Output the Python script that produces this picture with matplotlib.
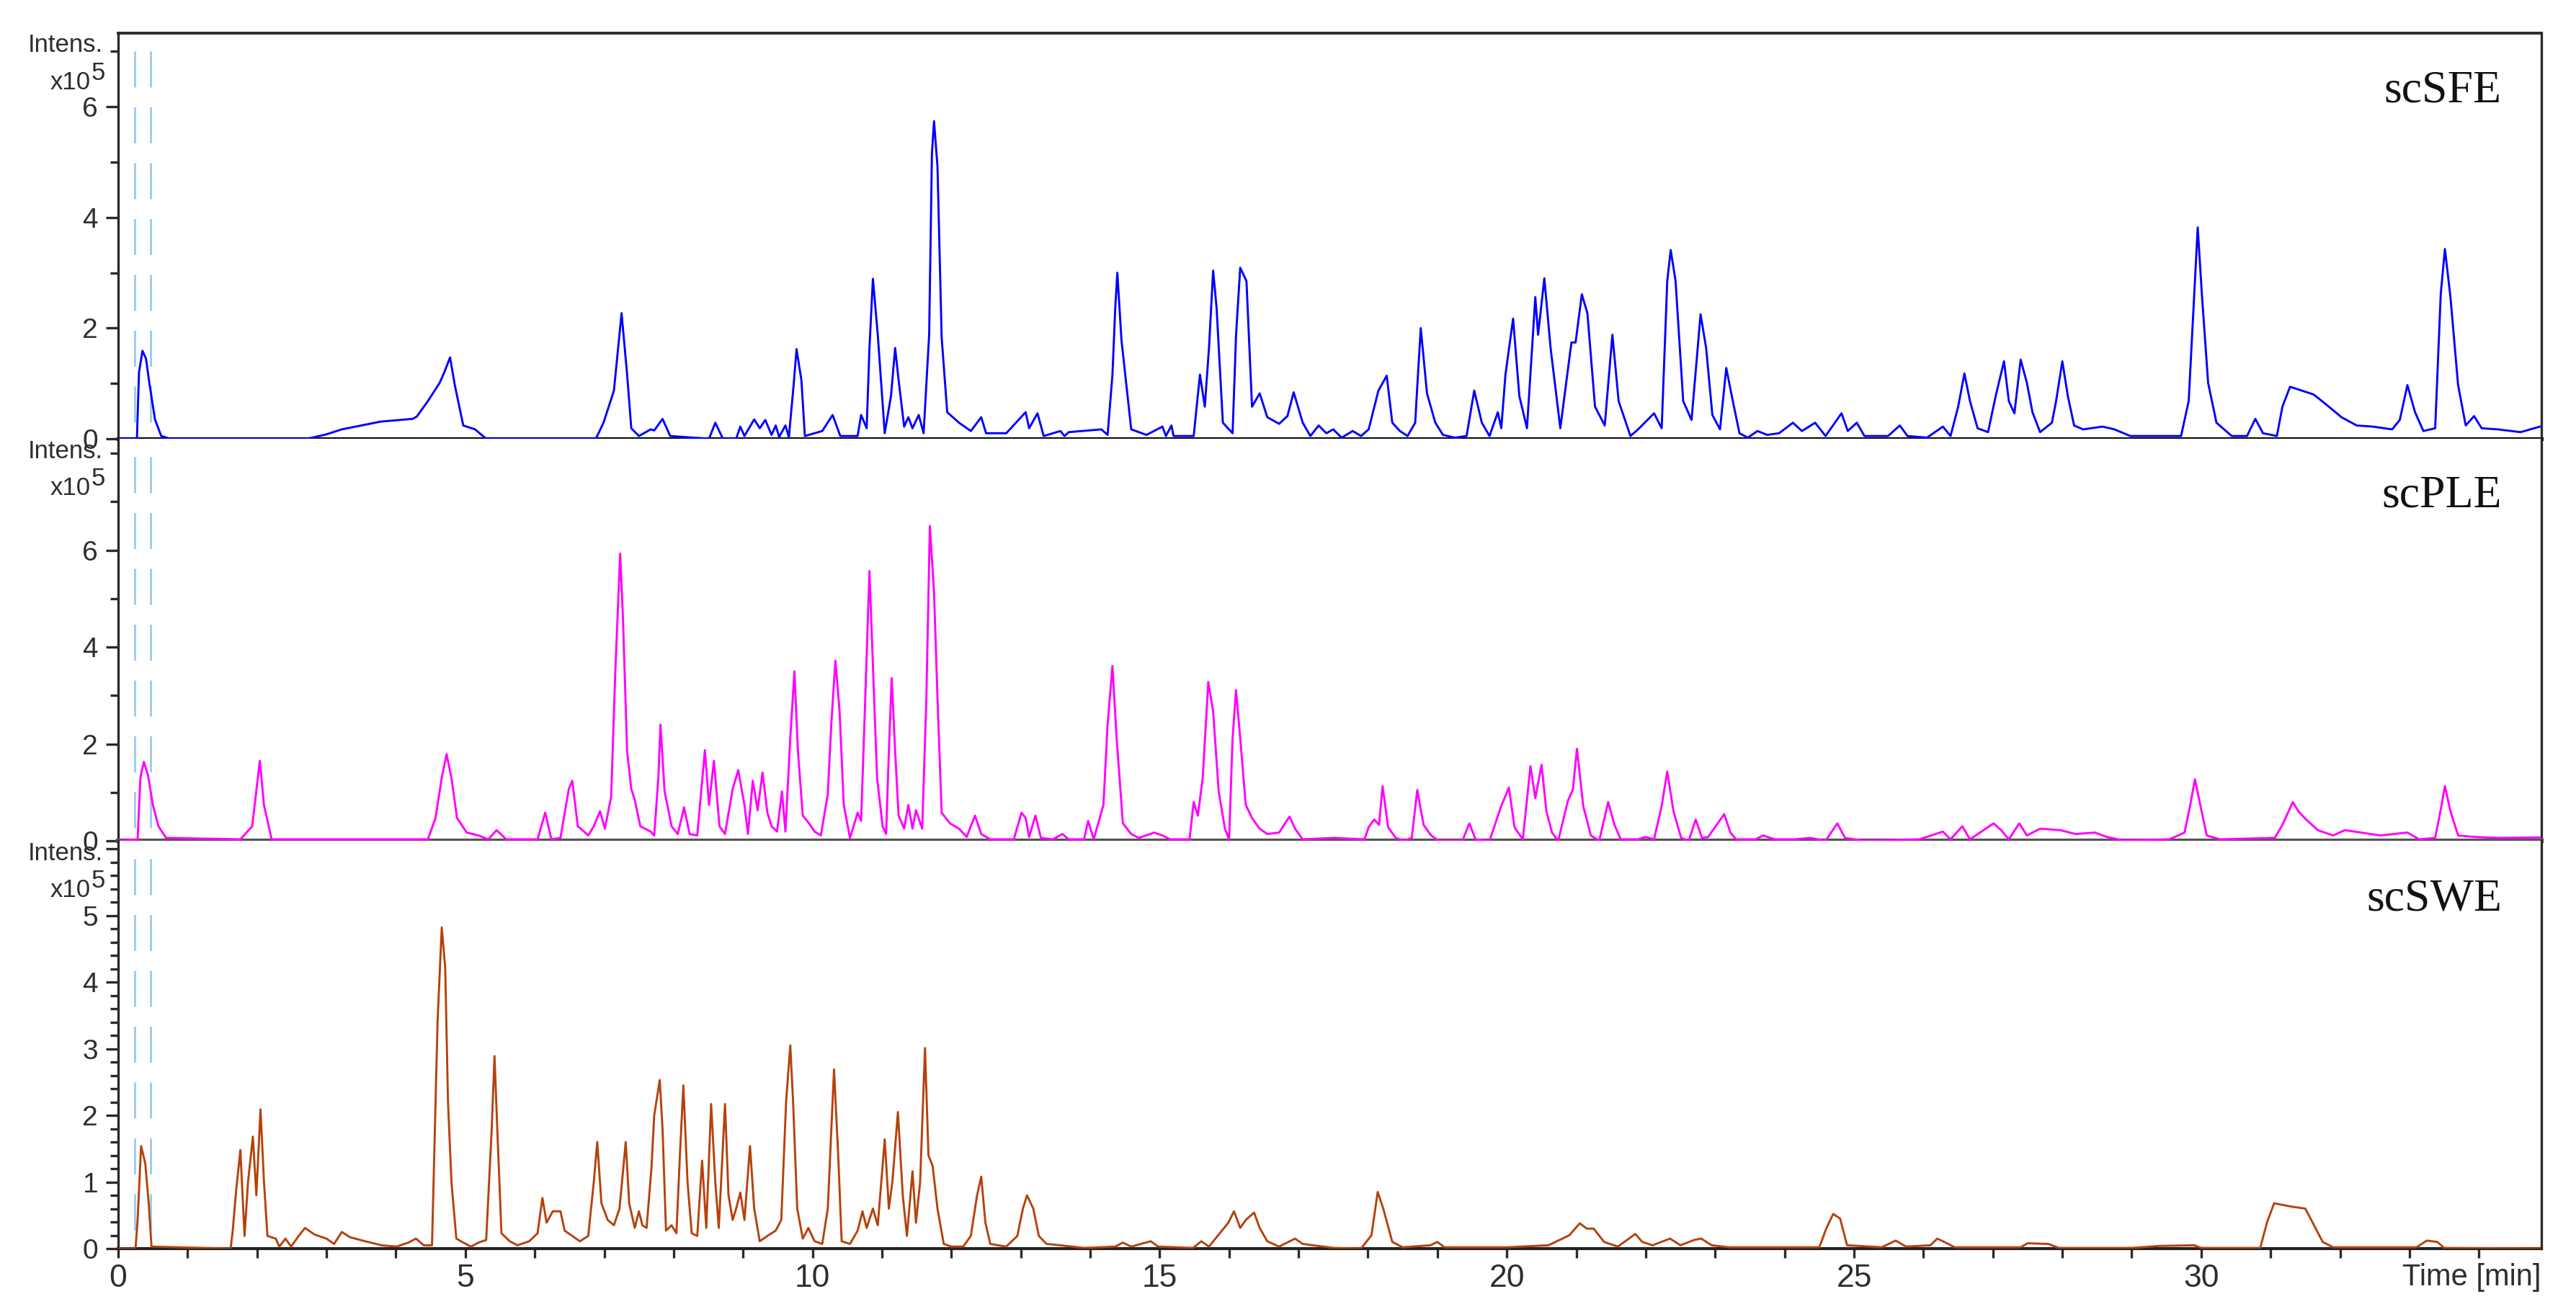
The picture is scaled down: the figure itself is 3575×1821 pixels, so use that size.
import matplotlib
matplotlib.use("Agg")
import matplotlib.pyplot as plt
from matplotlib import font_manager
from matplotlib.ticker import FixedLocator

# ---- chromatogram traces (time [min], intensity x10^5) ----
sfe_time = [0, 0.27, 0.30, 0.35, 0.40, 0.45, 0.53, 0.62, 0.75,
            2.72, 3.0, 3.22, 3.5, 3.78, 4.05, 4.24, 4.30, 4.46, 4.63, 4.69, 4.78, 4.85, 4.97, 5.14, 5.30,
            6.88, 6.99, 7.14, 7.25, 7.33, 7.39, 7.50, 7.60, 7.67, 7.72, 7.84, 7.95,
            8.51, 8.60, 8.71,
            8.90, 8.96, 9.02, 9.16, 9.24, 9.32, 9.41, 9.47, 9.52, 9.61, 9.66, 9.73, 9.77, 9.84, 9.89,
            10.14, 10.29, 10.40, 10.65, 10.70, 10.78, 10.82, 10.87, 10.94, 11.04, 11.13, 11.19, 11.24,
            11.32, 11.38, 11.44, 11.53, 11.60, 11.68, 11.72, 11.75, 11.80, 11.86, 11.94, 12.11, 12.28,
            12.43, 12.50, 12.79, 13.07, 13.12, 13.24, 13.33, 13.57, 13.63, 13.69, 14.16, 14.25, 14.32,
            14.36, 14.39, 14.45, 14.59, 14.81, 15.04, 15.09, 15.17, 15.20, 15.49, 15.58, 15.65, 15.71,
            15.77, 15.82, 15.91, 16.05, 16.10, 16.16, 16.25, 16.33, 16.44, 16.55, 16.72, 16.84, 16.93,
            17.06, 17.17, 17.29, 17.40,
            17.50, 17.62, 17.78, 17.90, 18.01, 18.15, 18.27, 18.35, 18.46, 18.57, 18.68, 18.72, 18.76,
            18.85, 18.97, 19.08, 19.25, 19.42, 19.53, 19.64, 19.75, 19.87, 19.92, 19.98, 20.09, 20.18,
            20.29, 20.41, 20.45, 20.54, 20.63, 20.77, 20.93, 20.99, 21.08, 21.16, 21.27, 21.41, 21.52,
            21.61, 21.78, 21.89, 22.12, 22.23, 22.31, 22.36, 22.43, 22.54, 22.66, 22.79, 22.87, 22.96,
            23.07, 23.16, 23.24, 23.35, 23.47, 23.61, 23.75, 23.92, 24.12, 24.25, 24.44, 24.59, 24.82,
            24.91, 25.04, 25.15, 25.49, 25.66, 25.77, 26.05, 26.28, 26.39, 26.50, 26.59, 26.67, 26.78,
            26.93, 27.04, 27.16, 27.23, 27.31, 27.40, 27.49, 27.57, 27.68, 27.85, 27.91, 28.00, 28.08,
            28.17, 28.30, 28.58, 28.75, 28.98, 29.71, 29.82, 29.90, 29.95, 30.01, 30.10, 30.22, 30.44,
            30.66, 30.78, 30.89, 31.09, 31.17, 31.28, 31.45, 31.62, 31.79, 32.02, 32.24, 32.47, 32.75,
            32.86, 32.97, 33.08, 33.20, 33.37, 33.45, 33.51, 33.59, 33.70, 33.81, 33.93, 34.04, 34.27,
            34.60, 34.88, 35.0]
sfe_intens = [0, 0, 1.2, 1.59, 1.45, 1.0, 0.35, 0.05, 0,
              0, 0.08, 0.17, 0.24, 0.31, 0.34, 0.36, 0.40, 0.68, 1.01, 1.18, 1.47, 0.96, 0.24, 0.17, 0.0,
              0, 0.29, 0.87, 2.27, 1.16, 0.19, 0.05, 0.12, 0.17, 0.15, 0.36, 0.05,
              0, 0.29, 0,
              0, 0.22, 0.05, 0.35, 0.19, 0.34, 0.07, 0.24, 0.03, 0.24, 0.03, 1.0, 1.62, 1.06, 0.05,
              0.14, 0.43, 0.05, 0.05, 0.43, 0.19, 1.64, 2.89, 1.88, 0.1, 0.77, 1.64, 1.06,
              0.22, 0.39, 0.19, 0.43, 0.1, 1.88, 5.16, 5.74, 4.92, 1.83, 0.48, 0.29, 0.14,
              0.39, 0.1, 0.1, 0.48, 0.19, 0.46, 0.05, 0.14, 0.05, 0.12, 0.17, 0.07, 1.16,
              2.36, 3.0, 1.78, 0.17, 0.07, 0.22, 0.05, 0.24, 0.05, 0.05, 1.16, 0.58, 1.64,
              3.04, 2.36, 0.29, 0.1, 1.88, 3.09, 2.85, 0.58, 0.82, 0.39, 0.27, 0.41, 0.84,
              0.29, 0.05, 0.24, 0.1,
              0.17, 0.02, 0.14, 0.05, 0.17, 0.87, 1.14, 0.29, 0.14, 0.05, 0.29, 1.16, 2.0,
              0.82, 0.29, 0.07, 0.02, 0.05, 0.87, 0.29, 0.05, 0.48, 0.19, 1.16, 2.17, 0.77,
              0.19, 2.56, 1.88, 2.90, 1.64, 0.19, 1.74, 1.74, 2.61, 2.27, 0.58, 0.24, 1.88,
              0.68, 0.05, 0.17, 0.46, 0.19, 2.85, 3.41, 2.85, 0.68, 0.34, 2.25, 1.64, 0.43,
              0.17, 1.28, 0.77, 0.10, 0.02, 0.14, 0.07, 0.10, 0.29, 0.14, 0.29, 0.05, 0.46,
              0.14, 0.29, 0.05, 0.05, 0.24, 0.05, 0.02, 0.22, 0.05, 0.58, 1.18, 0.68, 0.19,
              0.12, 0.77, 1.40, 0.68, 0.46, 1.43, 1.01, 0.48, 0.12, 0.29, 0.68, 1.40, 0.77,
              0.24, 0.17, 0.22, 0.17, 0.05, 0.05, 0.68, 2.61, 3.82, 2.61, 1.01, 0.29, 0.05,
              0.05, 0.36, 0.10, 0.05, 0.58, 0.94, 0.87, 0.80, 0.63, 0.39, 0.24, 0.22, 0.17,
              0.34, 0.97, 0.48, 0.14, 0.19, 2.61, 3.43, 2.56, 0.97, 0.24, 0.41, 0.19, 0.17,
              0.12, 0.22, 0.22]

ple_time = [0, 0.28, 0.32, 0.37, 0.43, 0.50, 0.58, 0.69, 1.76, 1.93, 2.04, 2.10, 2.21,
            4.46, 4.57, 4.66, 4.73, 4.80, 4.88, 5.02, 5.19, 5.33, 5.45, 5.59, 6.04, 6.15, 6.24,
            6.37, 6.49, 6.54, 6.62, 6.71, 6.77, 6.85, 6.94, 7.01, 7.10, 7.16, 7.23, 7.27, 7.33,
            7.39, 7.44, 7.52, 7.67, 7.72, 7.78, 7.81, 7.87, 7.97, 8.06, 8.15, 8.23, 8.34, 8.45,
            8.51, 8.58, 8.66, 8.74, 8.85, 8.93, 9.02, 9.07, 9.14, 9.21, 9.28, 9.35, 9.41, 9.49,
            9.56, 9.61, 9.68, 9.74, 9.79, 9.86, 9.95, 10.03, 10.12, 10.22, 10.27, 10.33, 10.39,
            10.45, 10.54, 10.65, 10.70, 10.76, 10.82, 10.87, 10.93, 11.01, 11.06, 11.10, 11.14,
            11.19, 11.24, 11.32, 11.38, 11.44, 11.49, 11.58, 11.64, 11.69, 11.75, 11.80, 11.86,
            11.98, 12.11, 12.22, 12.34, 12.43, 12.56, 12.90, 13.01, 13.07, 13.12, 13.21, 13.29,
            13.46, 13.60, 13.69, 13.91, 13.97, 14.05, 14.19, 14.25, 14.32, 14.38, 14.47, 14.59,
            14.70, 14.92, 15.04, 15.15, 15.43, 15.49, 15.55, 15.62, 15.70, 15.77, 15.85, 15.94,
            16.00, 16.05, 16.10, 16.16, 16.24, 16.33, 16.44, 16.55, 16.72, 16.87, 16.95, 17.06,
            17.51, 17.95, 18.01, 18.09, 18.16, 18.21, 18.29, 18.40, 18.52, 18.63, 18.71, 18.80,
            18.91, 19.02, 19.36, 19.46, 19.55, 19.75, 19.92, 20.03, 20.11, 20.23, 20.34, 20.41,
            20.50, 20.57, 20.65, 20.74, 20.88, 20.95, 21.01, 21.10, 21.21, 21.33, 21.46, 21.55,
            21.64, 21.89, 22.00, 22.12, 22.23, 22.31, 22.40, 22.51, 22.62, 22.72, 22.81, 22.90,
            23.13, 23.22, 23.30, 23.58, 23.69, 23.86, 24.14, 24.37, 24.59, 24.76, 24.87, 25.15,
            25.94, 26.28, 26.39, 26.56, 26.67, 27.01, 27.12, 27.23, 27.38, 27.49, 27.68, 27.97,
            28.19, 28.47, 28.64, 28.87, 29.54, 29.76, 29.84, 29.91, 29.99, 30.08, 30.27, 31.06,
            31.17, 31.32, 31.40, 31.51, 31.68, 31.90, 32.07, 32.30, 32.58, 32.97, 33.14, 33.37,
            33.46, 33.51, 33.59, 33.70, 33.93, 34.27, 34.88, 35.0]
ple_intens = [0, 0.03, 1.30, 1.63, 1.35, 0.74, 0.30, 0.06, 0.03, 0.30, 1.65, 0.74, 0.03,
              0.03, 0.47, 1.30, 1.79, 1.30, 0.47, 0.17, 0.11, 0.03, 0.22, 0.03, 0.03, 0.58, 0.03,
              0.06, 1.07, 1.24, 0.30, 0.19, 0.11, 0.30, 0.61, 0.25, 0.91, 3.50, 5.93, 4.60, 1.85,
              1.07, 0.85, 0.30, 0.19, 0.11, 1.30, 2.40, 1.02, 0.30, 0.14, 0.69, 0.14, 0.11, 1.87,
              0.74, 1.65, 0.30, 0.14, 1.07, 1.46, 0.74, 0.14, 1.24, 0.63, 1.41, 0.58, 0.30, 0.19,
              1.02, 0.19, 2.12, 3.50, 1.85, 0.52, 0.36, 0.19, 0.11, 0.96, 2.40, 3.72, 2.67,
              0.74, 0.06, 0.58, 0.41, 2.95, 5.57, 3.61, 1.30, 0.30, 0.14, 1.85, 3.36,
              1.85, 0.52, 0.25, 0.74, 0.25, 0.63, 0.25, 2.95, 6.50, 5.15, 2.95, 0.58,
              0.36, 0.25, 0.08, 0.52, 0.14, 0.03, 0.03, 0.58, 0.47, 0.08, 0.52, 0.06,
              0.03, 0.14, 0.03, 0.03, 0.41, 0.03, 0.74, 2.40, 3.61, 2.12, 0.36, 0.14,
              0.06, 0.17, 0.11, 0.03, 0.03, 0.80, 0.52, 1.30, 3.28, 2.67, 1.02, 0.25,
              0.03, 2.12, 3.11, 2.12, 0.74, 0.47, 0.25, 0.14, 0.17, 0.50, 0.25, 0.03,
              0.06, 0.03, 0.28, 0.44, 0.33, 1.13, 0.28, 0.06, 0.0, 0.06, 1.05, 0.33,
              0.11, 0.0, 0.0, 0.36, 0.03, 0.0, 0.72, 1.10, 0.28, 0.03, 1.54, 0.88,
              1.57, 0.61, 0.17, 0.0, 0.83, 1.05, 1.90, 0.72, 0.11, 0.0, 0.80, 0.33,
              0.03, 0.03, 0.08, 0.03, 0.72, 1.43, 0.61, 0.06, 0.0, 0.44, 0.06, 0.08,
              0.55, 0.17, 0.03, 0.03, 0.11, 0.03, 0.03, 0.06, 0.0, 0.36, 0.06, 0.0,
              0.03, 0.19, 0.03, 0.30, 0.03, 0.36, 0.22, 0.03, 0.36, 0.11, 0.25, 0.22,
              0.14, 0.17, 0.08, 0.01, 0.03, 0.17, 0.72, 1.27, 0.72, 0.11, 0.03, 0.06,
              0.33, 0.80, 0.61, 0.44, 0.22, 0.11, 0.22, 0.17, 0.11, 0.17, 0.03, 0.06,
              0.72, 1.13, 0.61, 0.11, 0.08, 0.06, 0.07, 0.07]

swe_time = [0, 0.25, 0.28, 0.33, 0.39, 0.44, 0.48, 1.62, 1.65, 1.70, 1.76, 1.82, 1.87, 1.94,
            1.99, 2.05, 2.10, 2.15, 2.27, 2.32, 2.41, 2.49, 2.60, 2.69, 2.83, 3.00, 3.11, 3.22,
            3.34, 3.56, 3.79, 4.01, 4.18, 4.29, 4.40, 4.52, 4.60, 4.66, 4.71, 4.75, 4.80, 4.87,
            4.97, 5.08, 5.19, 5.30, 5.38, 5.42, 5.46, 5.52, 5.64, 5.75, 5.92, 6.04, 6.11, 6.17,
            6.26, 6.32, 6.37, 6.43, 6.54, 6.65, 6.77, 6.85, 6.90, 6.96, 7.05, 7.14, 7.22, 7.31,
            7.36, 7.44, 7.50, 7.55, 7.61, 7.68, 7.72, 7.80, 7.84, 7.89, 7.97, 8.04, 8.09, 8.14,
            8.20, 8.26, 8.34, 8.41, 8.47, 8.54, 8.60, 8.65, 8.74, 8.79, 8.85, 8.90, 8.96, 9.02,
            9.10, 9.16, 9.24, 9.35, 9.47, 9.55, 9.62, 9.68, 9.72, 9.78, 9.86, 9.94, 10.03, 10.14,
            10.22, 10.31, 10.37, 10.42, 10.54, 10.65, 10.72, 10.78, 10.87, 10.94, 11.04, 11.10,
            11.15, 11.23, 11.30, 11.36, 11.44, 11.49, 11.55, 11.62, 11.67, 11.73, 11.80, 11.89,
            12.00, 12.17, 12.28, 12.37, 12.43, 12.49, 12.56, 12.79, 12.95, 13.03, 13.09, 13.18,
            13.26, 13.37, 13.57, 13.91, 14.36, 14.47, 14.59, 14.87, 14.98, 15.48, 15.60, 15.71,
            15.99, 16.07, 16.16, 16.24, 16.36, 16.44, 16.55, 16.72, 16.95, 17.06, 17.51,
            17.9, 18.05, 18.14, 18.22, 18.35, 18.5, 18.9, 19.0, 19.1, 20.0, 20.6, 20.9, 21.05,
            21.15, 21.25, 21.4, 21.6, 21.85, 21.95, 22.1, 22.35, 22.5, 22.7, 22.8, 22.95, 23.2,
            24.5, 24.6, 24.7, 24.8, 24.9, 25.4, 25.6, 25.75, 26.1, 26.2, 26.3, 26.45, 27.4,
            27.5, 27.8, 27.95, 29.0, 29.4, 29.9, 30.0, 30.85, 30.95, 31.05, 31.3, 31.5, 31.6,
            31.75, 31.9, 33.1, 33.25, 33.4, 33.5, 35.0]
swe_intens = [0, 0, 0.43, 1.54, 1.28, 0.68, 0.03, 0.0, 0.27, 0.88, 1.48, 0.19, 1.00, 1.68,
              0.80, 2.09, 1.00, 0.19, 0.15, 0.03, 0.15, 0.03, 0.19, 0.31, 0.21, 0.15, 0.07, 0.25,
              0.17, 0.11, 0.05, 0.03, 0.09, 0.15, 0.05, 0.05, 3.41, 4.82, 4.22, 2.21, 1.00, 0.15,
              0.09, 0.03, 0.09, 0.13, 1.80, 2.89, 1.80, 0.23, 0.11, 0.05, 0.11, 0.23, 0.76, 0.39,
              0.56, 0.56, 0.56, 0.27, 0.19, 0.11, 0.19, 1.00, 1.60, 0.68, 0.43, 0.35, 0.60, 1.60,
              0.68, 0.31, 0.56, 0.35, 0.31, 1.20, 2.00, 2.53, 1.80, 0.27, 0.35, 0.23, 1.40, 2.45,
              1.00, 0.23, 0.19, 1.32, 0.31, 2.17, 1.00, 0.31, 2.17, 0.80, 0.43, 0.60, 0.84, 0.43,
              1.54, 0.60, 0.11, 0.19, 0.27, 0.43, 2.21, 3.05, 2.21, 0.60, 0.15, 0.31, 0.11, 0.07,
              0.60, 2.69, 1.40, 0.11, 0.07, 0.27, 0.56, 0.31, 0.60, 0.35, 1.64, 0.60,
              1.00, 2.05, 0.80, 0.19, 1.16, 0.39, 1.00, 3.01, 1.40, 1.24, 0.60, 0.07,
              0.03, 0.03, 0.19, 0.80, 1.08, 0.39, 0.07, 0.03, 0.19, 0.60, 0.80, 0.60,
              0.19, 0.07, 0.05, 0.01, 0.03, 0.09, 0.03, 0.11, 0.03, 0.01, 0.11, 0.03,
              0.39, 0.56, 0.31, 0.43, 0.54, 0.31, 0.11, 0.03, 0.15, 0.07, 0.01,
              0.0, 0.2, 0.85, 0.6, 0.1, 0.02, 0.05, 0.1, 0.02, 0.02, 0.05, 0.2, 0.38,
              0.3, 0.3, 0.1, 0.03, 0.22, 0.1, 0.05, 0.15, 0.05, 0.13, 0.15, 0.05, 0.02,
              0.02, 0.3, 0.52, 0.45, 0.05, 0.02, 0.12, 0.03, 0.05, 0.15, 0.1, 0.02, 0.02,
              0.08, 0.07, 0.01, 0.01, 0.04, 0.05, 0.01, 0.01, 0.4, 0.68, 0.63, 0.6, 0.4,
              0.1, 0.02, 0.02, 0.12, 0.1, 0.01, 0.0]

panel_names = ["scSFE", "scPLE", "scSWE"]
panel_colors = ["#0000ff", "#ff00ff", "#b5420c"]
panel_ylims = [7.33, 8.3, 6.12]
panel_major = [[0, 2, 4, 6], [0, 2, 4, 6], [0, 1, 2, 3, 4, 5, 6]]
panel_major_lbl = [["0", "2", "4", "6"], ["0", "2", "4", "6"], ["0", "1", "2", "3", "4", "5", ""]]
panel_minor = [[1, 3, 5, 7], [1, 3, 5, 7, 8],
               [i / 5 for i in range(31) if i % 5 != 0]]
x_major = [0, 5, 10, 15, 20, 25, 30, 35]
x_major_lbl = ["0", "5", "10", "15", "20", "25", "30", ""]
marker_lines = [0.24, 0.47]

W, H = 3575, 1821
names = {f.name for f in font_manager.fontManager.ttflist}
narrow = "Liberation Sans Narrow" if "Liberation Sans Narrow" in names else "Liberation Sans"
plt.rcParams["font.family"] = ["Liberation Sans", "DejaVu Sans"]

fig = plt.figure(figsize=(W / 100, H / 100), dpi=100)
tops = [46, 609, 1167]
bottoms = [609, 1167, 1733]
left, right = 164, 3527
txt_col = "#2e2e2e"

data = [(sfe_time, sfe_intens), (ple_time, ple_intens), (swe_time, swe_intens)]
axes = []
for i in range(3):
    ax = fig.add_axes([left / W, 1 - bottoms[i] / H, (right - left) / W, (bottoms[i] - tops[i]) / H])
    axes.append(ax)
    t, v = data[i]
    for xm in marker_lines:
        ax.plot([xm, xm], [0.955, 0.0], transform=ax.get_xaxis_transform(),
                color="#8cc4f4", lw=1.8, dashes=(20, 11), zorder=1)
    ax.plot(t, v, color=panel_colors[i], lw=2.1, zorder=3)
    ax.set_xlim(0, 34.9)
    ax.set_ylim(0, panel_ylims[i])

    ax.yaxis.set_major_locator(FixedLocator(panel_major[i]))
    ax.set_yticklabels(panel_major_lbl[i])
    ax.yaxis.set_minor_locator(FixedLocator(panel_minor[i]))
    ax.tick_params(axis="y", which="major", length=12, width=2.4, color="#2a2a2a",
                   labelsize=28, labelcolor=txt_col, pad=8)
    ax.tick_params(axis="y", which="minor", length=8, width=2.4, color="#2a2a2a")

    for s in ["left", "right"]:
        ax.spines[s].set_linewidth(2.4)
        ax.spines[s].set_color("#2a2a2a")
    if i == 0:
        ax.spines["top"].set_linewidth(2.8)
        ax.spines["top"].set_color("#2a2a2a")
    else:
        ax.spines["top"].set_visible(False)

    ax.text(0.9836, 0.83, panel_names[i], transform=ax.transAxes, ha="right", va="baseline",
            fontsize=46, family="Liberation Serif", color="#111111")

    # axis caption top left (overlaps the previous panel's 0 label, as in the source)
    fig.text(143 / W, 1 - (tops[i] + 17) / H, "Intens.", ha="right", va="center",
             fontsize=25, color=txt_col)
    fig.text(126 / W, 1 - (tops[i] + 78) / H, "x10", ha="right", va="baseline",
             fontsize=25, color=txt_col)
    fig.text(127 / W, 1 - (tops[i] + 65) / H, "5", ha="left", va="baseline",
             fontsize=25, color=txt_col)

    if i < 2:
        ax.tick_params(axis="x", which="both", bottom=False, labelbottom=False)

axes[0].spines["bottom"].set_linewidth(3.8)
axes[0].spines["bottom"].set_color("#111111")
axes[1].spines["bottom"].set_linewidth(4.5)
axes[1].spines["bottom"].set_color("#555555")

ax3 = axes[2]
ax3.spines["bottom"].set_linewidth(3)
ax3.spines["bottom"].set_color("#222222")
ax3.xaxis.set_major_locator(FixedLocator(x_major))
ax3.set_xticklabels(x_major_lbl, family=narrow)
ax3.xaxis.set_minor_locator(FixedLocator([m for m in range(36) if m % 5 != 0]))
ax3.tick_params(axis="x", which="both", length=9, width=2.4, color="#2a2a2a",
                labelsize=32, labelcolor=txt_col, pad=6)
ax3.text(34.9, -0.035, "Time [min]", transform=ax3.get_xaxis_transform(), ha="right", va="top",
         fontsize=30, family=narrow, color=txt_col)

fig.savefig("out.png", dpi=100, facecolor="white")
